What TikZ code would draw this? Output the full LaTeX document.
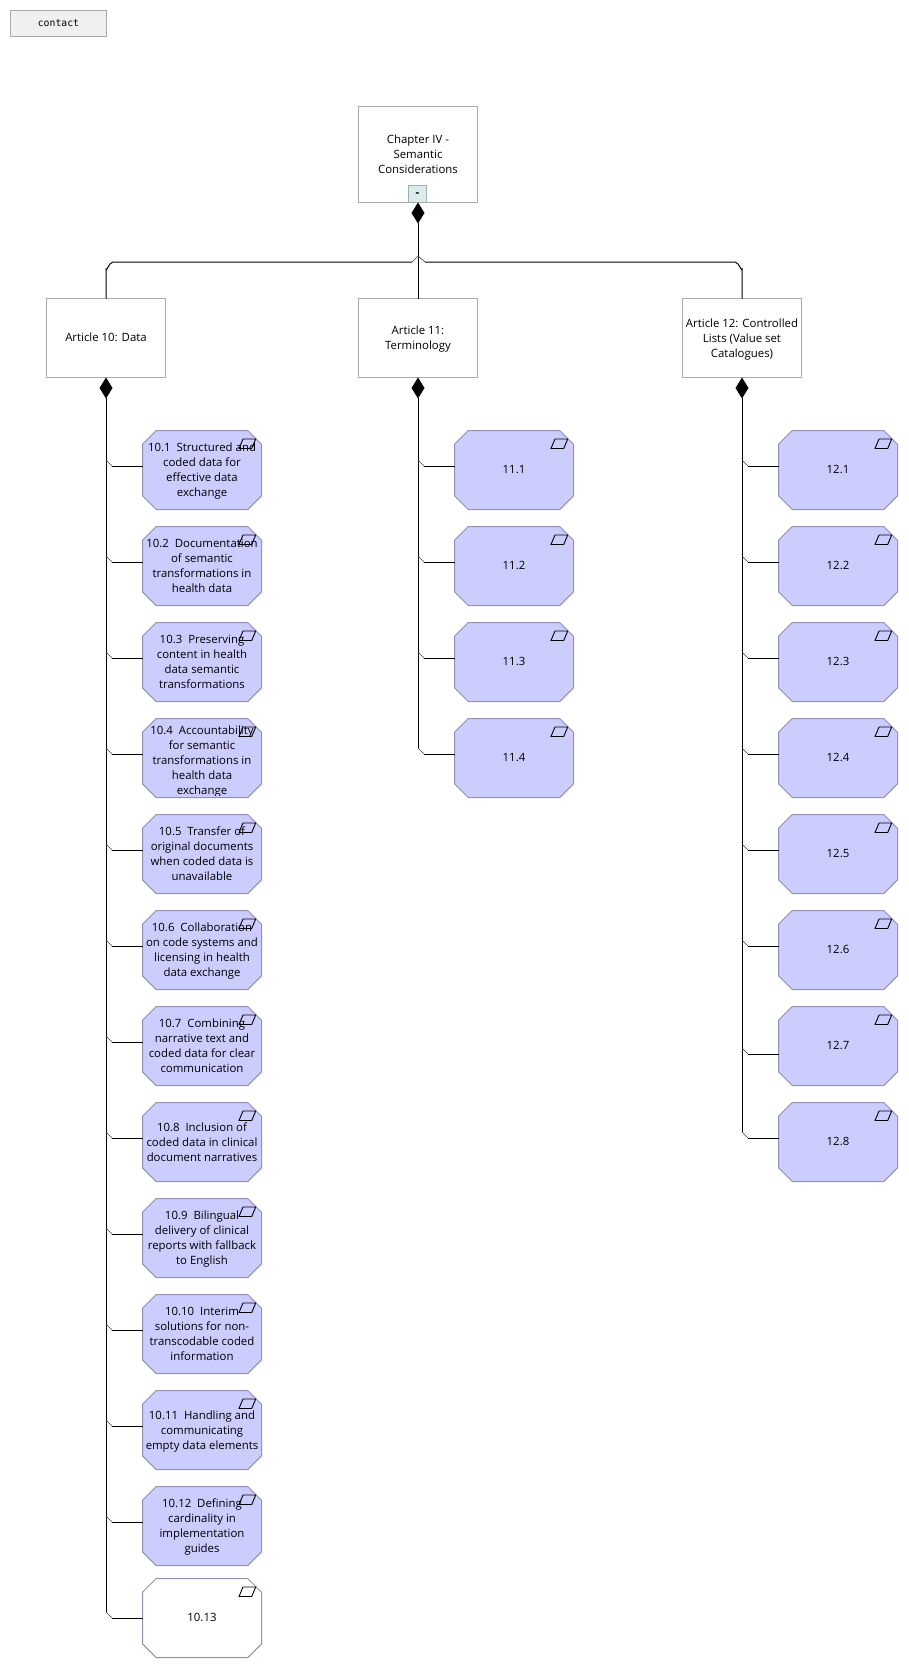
\documentclass[tikz,border=0pt]{standalone}
\usepackage{fontspec}
\setmainfont{Open Sans}
\newfontfamily\contactfont{DejaVu Sans Mono}
\usetikzlibrary{arrows.meta,shapes.misc,calc}
\definecolor{greyline}{HTML}{ABABAB}
\definecolor{reqfill}{HTML}{CCCCFF}
\definecolor{reqline}{HTML}{9090B4}
\definecolor{btnfill}{HTML}{F0F0F0}
\definecolor{minusfill}{HTML}{DCEAEA}
\definecolor{minusline}{HTML}{9DB0B0}
\tikzset{
  lbl/.style={font=\fontsize{11.4}{15}\selectfont,align=center,text=black,inner sep=0pt,outer sep=0pt,execute at begin node={\strut},execute at end node={\strut},yshift=-0.8pt},
  multi/.style={lbl,yshift=-1.5pt},
  artbox/.style={draw=greyline,fill=white,line width=1pt,minimum width=119pt,minimum height=79pt,inner sep=0pt,outer sep=0pt},
  chapbox/.style={artbox,minimum height=96pt},
  reqbox/.style={font=\fontsize{11.4}{15}\selectfont,chamfered rectangle,chamfered rectangle xsep=9.5pt,chamfered rectangle ysep=9.5pt,draw=reqline,fill=reqfill,line width=1pt,minimum width=119pt,minimum height=79pt,inner sep=0pt,outer sep=0pt},
  blankbox/.style={reqbox,fill=white},
  conn/.style={draw=black,line width=1pt},
  thinconn/.style={draw=black!75,line width=.6pt},
  comp/.style={conn,{Diamond[length=21pt,width=13pt,fill=black]}-},
  iconline/.style={draw=black,line width=.9pt,line join=miter}
}
\newcommand{\reqicon}[1]{%
  \path (#1.north -| #1.east) coordinate (#1ne);
  \draw[iconline] ([shift={(-22.5,18)}]#1ne) -- ([shift={(-18.5,8.5)}]#1ne) -- ([shift={(-5.8,8.5)}]#1ne) -- ([shift={(-9.8,18)}]#1ne) -- cycle;}
\newcommand{\branch}[2]{% junction coord, box
  \draw[thinconn] ($(#1)+(0,-6)$) -- ($(#1)+(6,0)$);
  \draw[conn] ($(#1)+(6,0)$) -- (#2.west |- #1);}
\begin{document}
\begin{tikzpicture}[x=1pt,y=-1pt]
\useasboundingbox (0,0) rectangle (908,1668);
\fill[white] (0,0) rectangle (908,1668);

\node[draw=greyline,fill=btnfill,line width=1pt,minimum width=96pt,minimum height=26pt,inner sep=0pt,outer sep=0pt,font=\contactfont\fontsize{9.8}{12}\selectfont] (contact) at (58.5,23.5) {contact};

\node[chapbox] (chap) at (418,154.5) {};
\node[multi] (chapt) at (418,154.5) {Chapter IV -\\Semantic\\Considerations};
\node[draw=minusline,fill=minusfill,line width=1pt,minimum width=18pt,minimum height=17pt,inner sep=0pt,outer sep=0pt,font=\bfseries\fontsize{11.4}{15}\selectfont] (minus) at (417.5,194) {\raisebox{-5.5pt}{-}};

\node[artbox] (a10) at (106,338) {};
\node[lbl] (a10t) at (106,338) {Article 10: Data};
\node[artbox] (a11) at (418,338) {};
\node[multi] (a11t) at (418,338) {Article 11:\\Terminology};
\node[artbox] (a12) at (742,338) {};
\node[multi] (a12t) at (742,338) {Article 12: Controlled\\Lists (Value set\\Catalogues)};

% connectors of the top level
\coordinate (busl) at (106,262);
\coordinate (busr) at (742,262);
\coordinate (hop) at (418,262);
\draw[comp] (chap.south) -- (a11.north);
\draw[conn] (a10.north) -- ($(busl)+(0,7)$) to[out=-90,in=180] ($(busl)+(7,0)$) -- ($(hop)+(-6,0)$);
\draw[thinconn] ($(hop)+(-6,0)$) -- ($(hop)+(0,-6)$) -- ($(hop)+(7,0)$);
\draw[conn] ($(hop)+(7,0)$) -- ($(busr)+(-7,0)$) to[out=0,in=-90] ($(busr)+(0,7)$) -- (a12.north);

% trunks
\coordinate (end10) at (106,1618);
\coordinate (end11) at (418,754);
\coordinate (end12) at (742,1138);
\draw[comp] (a10.south) -- ($(end10)+(0,-6)$);
\draw[comp] (a11.south) -- ($(end11)+(0,-6)$);
\draw[comp] (a12.south) -- ($(end12)+(0,-6)$);

% Article 10 children
\foreach \k/\t/\c/\s in {
  1/430/466/{10.1\ \ Structured and\\coded data for\\effective data\\exchange},
  2/526/562/{10.2\ \ Documentation\\of semantic\\transformations in\\health data},
  3/622/658/{10.3\ \ Preserving\\content in health\\data semantic\\transformations},
  5/814/850/{10.5\ \ Transfer of\\original documents\\when coded data is\\unavailable},
  6/910/946/{10.6\ \ Collaboration\\on code systems and\\licensing in health\\data exchange},
  7/1006/1042/{10.7\ \ Combining\\narrative text and\\coded data for clear\\communication},
  8/1102/1138/{10.8\ \ Inclusion of\\coded data in clinical\\document narratives},
  9/1198/1234/{10.9\ \ Bilingual\\delivery of clinical\\reports with fallback\\to English},
  10/1294/1330/{10.10\ \ Interim\\solutions for non-\\transcodable coded\\information},
  11/1390/1426/{10.11\ \ Handling and\\communicating\\empty data elements},
  12/1486/1522/{10.12\ \ Defining\\cardinality in\\implementation\\guides}}{
  \node[reqbox] (r\k) at (202,{\t+40}) {\phantom{00.0}};
  \node[multi] (r\k t) at (202,{\t+40}) {\s};
  \coordinate (j\k) at (106,\c);
  \branch{j\k}{r\k}
  \reqicon{r\k}
}
% 10.4 overflows its box and is cut off
\node[reqbox] (r4) at (202,758) {\phantom{00.0}};
\begin{scope}
  \clip (142,718) rectangle (262,795);
  \node[multi] (r4t) at (202,760) {10.4\ \ Accountability\\for semantic\\transformations in\\health data\\exchange};
\end{scope}
\coordinate (j4) at (106,754);
\branch{j4}{r4}
\reqicon{r4}
% 10.13
\node[blankbox] (r13) at (202,1618) {\phantom{00.0}};
\node[lbl] (r13t) at (202,1618) {10.13};
\branch{end10}{r13}
\reqicon{r13}

% Article 11 children
\foreach \k/\t/\c in {1/430/466,2/526/562,3/622/658,4/718/754}{
  \node[reqbox] (p\k) at (514,{\t+40}) {\phantom{00.0}};
  \node[lbl] (p\k t) at (514,{\t+40}) {11.\k};
  \coordinate (m\k) at (418,\c);
  \branch{m\k}{p\k}
  \reqicon{p\k}
}
% Article 12 children
\foreach \k/\t/\c in {1/430/466,2/526/562,3/622/658,4/718/754,5/814/850,6/910/946,7/1006/1054,8/1102/1138}{
  \node[reqbox] (q\k) at (838,{\t+40}) {\phantom{00.0}};
  \node[lbl] (q\k t) at (838,{\t+40}) {12.\k};
  \coordinate (n\k) at (742,\c);
  \branch{n\k}{q\k}
  \reqicon{q\k}
}
\end{tikzpicture}
\end{document}
